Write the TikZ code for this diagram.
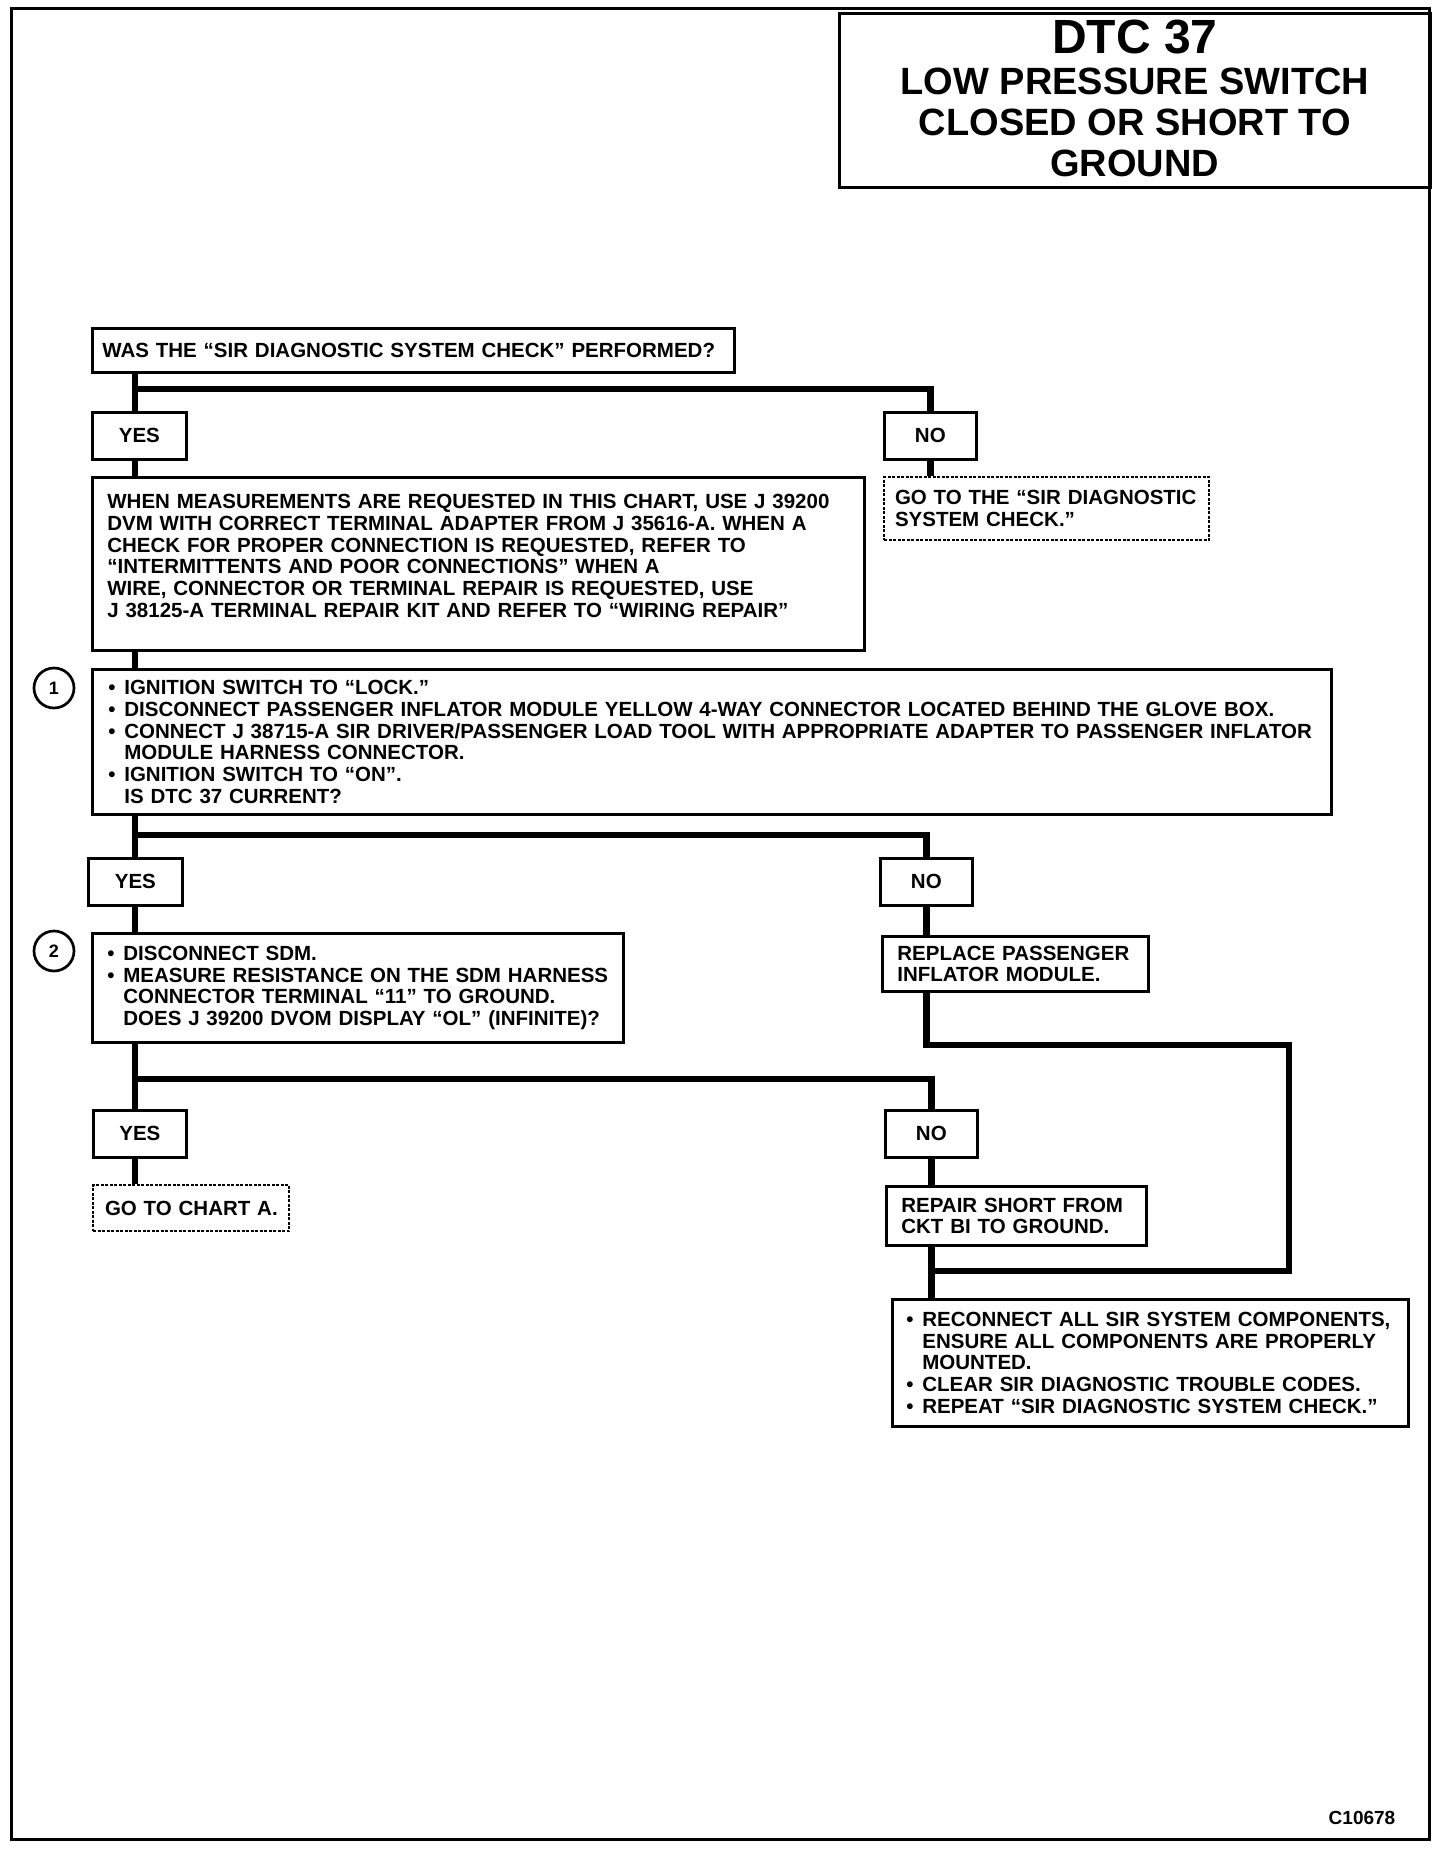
\documentclass[tikz,border=0pt]{standalone}
\usepackage{fontspec}
\setmainfont{Liberation Sans}
\newcommand\bitem[1]{\mbox{\makebox[16pt][l]{•}#1}}
\newcommand\citem[1]{\mbox{\hspace*{16pt}#1}}
\begin{document}
\begin{tikzpicture}[x=1pt,y=-1pt,
  txt/.style={font=\fontsize{20.5}{21.7}\selectfont\bfseries},
  box/.style={txt,draw,line width=2.7pt,anchor=north west,inner ysep=0pt,align=left},
  dbox/.style={box,line width=2pt,dash pattern=on 3pt off 1.5pt},
  ans/.style={txt,draw,line width=2.7pt,anchor=north west,inner sep=0pt,minimum height=47,align=center},
  conn/.style={line width=6.5pt,line join=miter},
  num/.style={circle,draw,line width=2.7pt,minimum size=40pt,inner sep=0pt,font=\fontsize{18}{18}\selectfont\bfseries}]
\useasboundingbox (0,0) rectangle (1456,1850);
\fill[white] (0,0) rectangle (1456,1850);
\draw[line width=3pt] (11,8) rectangle (1429,1839);

\node[draw,line width=2.7pt,anchor=north west,minimum width=591,minimum height=174,align=center,inner sep=0pt,font=\fontsize{38}{41}\selectfont\bfseries] (title) at (838,12)
 {{\fontsize{48}{48}\selectfont DTC 37}\\ LOW PRESSURE SWITCH\\ CLOSED OR SHORT TO\\ GROUND\\[-36pt]\mbox{}};

\node[box,minimum width=642,minimum height=44,inner xsep=10,text width=622] (q1) at (91,327) {WAS THE “SIR DIAGNOSTIC SYSTEM CHECK” PERFORMED?};
\node[ans,minimum width=94] (yes1) at (91,411) {YES};
\node[ans,minimum width=92] (no1) at (883,411) {NO};
\node[dbox,minimum width=325,minimum height=63,inner xsep=11,text width=303] (go1) at (883,476) {GO TO THE “SIR DIAGNOSTIC\\SYSTEM CHECK.”};
\node[box,minimum width=772,minimum height=173,inner xsep=15,text width=742] (info) at (91,476)
 {\mbox{WHEN MEASUREMENTS ARE REQUESTED IN THIS CHART, USE J 39200}\\
  \mbox{DVM WITH CORRECT TERMINAL ADAPTER FROM J 35616-A. WHEN A}\\
  CHECK FOR PROPER CONNECTION IS REQUESTED, REFER TO\\
  “INTERMITTENTS AND POOR CONNECTIONS” WHEN A\\
  WIRE, CONNECTOR OR TERMINAL REPAIR IS REQUESTED, USE\\
  \mbox{J 38125-A TERMINAL REPAIR KIT AND REFER TO “WIRING REPAIR”}\\[-5.7pt]\mbox{}};
\node[box,minimum width=1239,minimum height=145,inner xsep=16,text width=1207] (s1) at (91,668)
 {\bitem{IGNITION SWITCH TO “LOCK.”}\\
  \bitem{DISCONNECT PASSENGER INFLATOR MODULE YELLOW 4-WAY CONNECTOR LOCATED BEHIND THE GLOVE BOX.}\\
  \bitem{CONNECT J 38715-A SIR DRIVER/PASSENGER LOAD TOOL WITH APPROPRIATE ADAPTER TO PASSENGER INFLATOR}\\
  \citem{MODULE HARNESS CONNECTOR.}\\
  \bitem{IGNITION SWITCH TO “ON”.}\\
  \citem{IS DTC 37 CURRENT?}};
\node[num] (c1) at (54,688) {1};
\node[ans,minimum width=94] (yes2) at (87,857) {YES};
\node[ans,minimum width=92] (no2) at (879,857) {NO};
\node[box,minimum width=531,minimum height=109,inner xsep=15,text width=501] (s2) at (91,932)
 {\bitem{DISCONNECT SDM.}\\
  \bitem{MEASURE RESISTANCE ON THE SDM HARNESS}\\
  \citem{CONNECTOR TERMINAL “11” TO GROUND.}\\
  \citem{DOES J 39200 DVOM DISPLAY “OL” (INFINITE)?}};
\node[num] (c2) at (54,951) {2};
\node[box,minimum width=266,minimum height=55,inner xsep=15,text width=236] (repl) at (881,935) {REPLACE PASSENGER\\INFLATOR MODULE.};
\node[ans,minimum width=93] (yes3) at (92,1109) {YES};
\node[ans,minimum width=92] (no3) at (884,1109) {NO};
\node[dbox,minimum width=196,minimum height=46,inner xsep=12,text width=172] (chA) at (92,1184) {\mbox{GO TO CHART A.}};
\node[box,minimum width=260,minimum height=59,inner xsep=15,text width=230] (rep) at (885,1185) {REPAIR SHORT FROM\\CKT BI TO GROUND.};
\node[box,minimum width=516,minimum height=127,inner xsep=14,text width=488] (fin) at (891,1298)
 {\bitem{RECONNECT ALL SIR SYSTEM COMPONENTS,}\\
  \citem{ENSURE ALL COMPONENTS ARE PROPERLY}\\
  \citem{MOUNTED.}\\
  \bitem{CLEAR SIR DIAGNOSTIC TROUBLE CODES.}\\
  \bitem{REPEAT “SIR DIAGNOSTIC SYSTEM CHECK.”}};
\node[font=\fontsize{19}{19}\selectfont\bfseries] (code) at (1362,1818) {C10678};

\coordinate (t) at (135,0);
\coordinate (b1) at (0,389);
\coordinate (b2) at (0,835);
\coordinate (b3) at (0,1079);
\coordinate (lp1) at (1289,1045);
\coordinate (lp2) at (1289,1271);

\draw[conn] (q1.south -| t) -- (yes1.north -| t);
\draw[conn] (t |- b1) -| (no1.north);
\draw[conn] (yes1.south -| t) -- (info.north -| t);
\draw[conn] (no1.south) -- (no1.south |- go1.north);
\draw[conn] (info.south -| t) -- (s1.north -| t);
\draw[conn] (s1.south -| t) -- (yes2.north -| t);
\draw[conn] (t |- b2) -| (no2.north);
\draw[conn] (yes2.south -| t) -- (s2.north -| t);
\draw[conn] (no2.south) -- (no2.south |- repl.north);
\draw[conn] (repl.south -| no2.south) |- (lp1) -- (lp2) -- (lp2 -| no3.south);
\draw[conn] (s2.south -| t) -- (yes3.north -| t);
\draw[conn] (t |- b3) -| (no3.north);
\draw[conn] (yes3.south -| t) -- (chA.north -| t);
\draw[conn] (no3.south) -- (no3.south |- rep.north);
\draw[conn] (rep.south -| no3.south) -- (fin.north -| no3.south);
\end{tikzpicture}
\end{document}
